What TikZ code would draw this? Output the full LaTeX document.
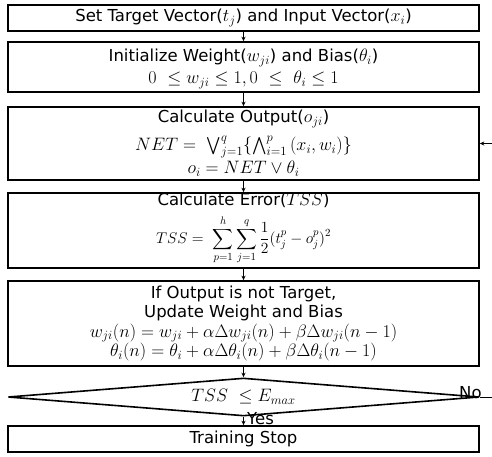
\RequirePackage{fix-cm}
\documentclass[tikz,border=0pt]{standalone}
\usepackage{amsmath}
\usepackage[no-math]{fontspec}
\setmainfont{DejaVu Sans}
\usetikzlibrary{shapes.geometric,arrows.meta}
\newcommand{\mm}[1]{{\fontsize{18}{20}\selectfont$#1$}}
\begin{document}
\begin{tikzpicture}[x=1pt,y=-1pt,
  box/.style={draw,line width=1.6pt,rectangle,minimum width=471pt,inner sep=0pt},
  txt/.style={font=\fontsize{16.5}{18}\selectfont,inner sep=0pt},
  mth/.style={font=\fontsize{18}{20}\selectfont,inner sep=0pt},
  arr/.style={line width=0.9pt,-{Stealth[length=4.5pt,width=4pt]}},
  lab/.style={font=\fontsize{16.5}{18}\selectfont,inner sep=1pt}]
\useasboundingbox (0,0) rectangle (492,456);
% boxes
\node[box,minimum height=26pt] (b1) at (243.5,18) {};
\node[box,minimum height=50pt] (b2) at (243.5,67) {};
\node[box,minimum height=73pt] (b3) at (243.5,143.5) {};
\node[box,minimum height=75pt] (b4) at (243.5,230.5) {};
\node[box,minimum height=85pt] (b5) at (243.5,323.5) {};
\node[draw,line width=1.6pt,diamond,aspect=12,minimum width=471pt,minimum height=38pt,inner sep=0pt] (d) at (243.5,397) {};
\node[box,minimum height=26pt] (b6) at (243.5,439) {};
% texts
\node[txt] (t1) at (243.5,18) {Set Target Vector(\mm{t_j}) and Input Vector(\mm{x_i})};
\node[txt] (t2a) at (243.5,58) {Initialize Weight(\mm{w_{ji}}) and Bias(\mm{\theta_i})};
\node[mth] (t2b) at (243.5,80) {$0\ \le w_{ji}\le 1,0\ \le\ \theta_i\le 1$};
\node[txt] (t3a) at (243.5,119) {Calculate Output(\mm{o_{ji}})};
\node[mth] (t3b) at (243.5,147) {$NET=\ \bigvee_{j=1}^{q}\{\bigwedge_{i=1}^{p}\,(x_i,w_i)\}$};
\node[mth] (t3c) at (243.5,168.5) {$o_i=NET\vee\theta_i$};
\node[txt] (t4a) at (243.5,200) {Calculate Error(\mm{TSS})};
\node[font=\fontsize{15.5}{18}\selectfont,inner sep=0pt] (t4b) at (243.5,240) {$\displaystyle TSS=\ \sum_{p=1}^{h}\sum_{j=1}^{q}\frac{1}{2}(t_j^p-o_j^p)^2$};
\node[txt] (t5a) at (243.5,294) {If Output is not Target,};
\node[txt] (t5b) at (243.5,313) {Update Weight and Bias};
\node[mth] (t5c) at (243.5,333) {$w_{ji}(n)=w_{ji}+\alpha\Delta w_{ji}(n)+\beta\Delta w_{ji}(n-1)$};
\node[mth] (t5d) at (243.5,352) {$\theta_i(n)=\theta_i+\alpha\Delta\theta_i(n)+\beta\Delta\theta_i(n-1)$};
\node[mth] (t6) at (243.5,397) {$TSS\ \le E_{max}$};
\node[txt] (t7) at (243.5,439) {Training Stop};
% connectors
\draw[arr] (b1) -- (b2);
\draw[arr] (b2) -- (b3);
\draw[arr] (b3) -- (b4);
\draw[arr] (b4) -- (b5);
\draw[arr] (b5) -- (d);
\draw[arr] (d) -- (b6);
\node[lab,anchor=west] (yes) at (246,418.5) {Yes};
\coordinate (r) at (500,397);
\draw[arr] (d.east) -- (r) |- (b3.east);
\node[lab,anchor=south east] (no) at ([xshift=3pt,yshift=-3pt]d.east) {No};
\end{tikzpicture}
\end{document}
